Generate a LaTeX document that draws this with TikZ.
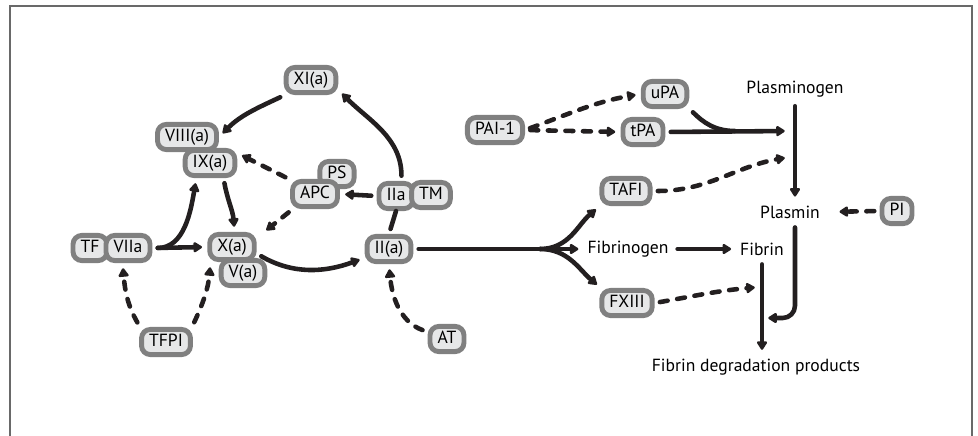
\documentclass[tikz,border=0pt]{standalone}
\usepackage{fontspec}
\setmainfont{PT Sans}
\usetikzlibrary{arrows.meta}
\definecolor{ink}{RGB}{35,31,32}
\definecolor{ring}{RGB}{128,128,128}
\definecolor{pale}{RGB}{230,231,232}
\definecolor{frm}{RGB}{105,105,105}
\begin{document}
\begin{tikzpicture}[x=0.02cm,y=0.02cm,font=\fontsize{10}{12}\selectfont]
 \tikzstyle{fac}=[rectangle, rounded corners=5pt, draw=ring, fill=pale, line width=2.8pt, inner xsep=4.3pt, inner ysep=2.4pt, text height=7.5pt, text depth=2pt]
 \tikzstyle{txt}=[inner sep=2pt]
 \tikzstyle{act}=[line width=2.6pt, color=ink, line cap=round, -{Triangle[round,length=5.5pt,width=6.5pt]}, shorten <=3pt, shorten >=3pt]
 \tikzstyle{inh}=[act, dash pattern=on 4.5pt off 5.5pt]
 \tikzstyle{lnk}=[line width=2.6pt, color=ink, line cap=round, shorten <=3pt]
\useasboundingbox (0,0) rectangle (978,-436);
\draw[frm, line width=1.2pt] (10,-445) -- (10,-6) -- (972,-6) -- (972,-445);
% coagulation side
\draw (90,-248) node[fac] (tf) {TF};
\draw (128,-248) node[fac] (viia) {VIIa};
\draw (187,-137) node[fac] (viii) {VIII(a)};
\draw (210,-163) node[fac] (ix) {IX(a)};
\draw (311,-80) node[fac] (xi) {XI(a)};
\draw (337,-174) node[fac] (ps) {PS};
\draw (315,-194) node[fac] (apc) {APC};
\draw (396,-196) node[fac] (iia) {IIa};
\draw (431,-195) node[fac] (tm) {TM};
\draw (232,-247) node[fac] (xa) {X(a)};
\draw (243,-273) node[fac] (va) {V(a)};
\draw (389,-249) node[fac] (ii) {II(a)};
\draw (447,-339) node[fac] (at) {AT};
\draw (166,-342) node[fac] (tfpi) {TFPI};
% fibrinolysis side
\draw (495,-130) node[fac] (pai) {PAI-1};
\draw (665,-94) node[fac] (upa) {uPA};
\draw (643,-132) node[fac] (tpa) {tPA};
\draw (626,-191) node[fac] (tafi) {TAFI};
\draw (627,-303) node[fac] (fxiii) {FXIII};
\draw (897,-211) node[fac] (pi) {PI};
\draw (628,-249) node[txt] (fbg) {Fibrinogen};
\draw (762,-249) node[txt] (fbn) {Fibrin};
\draw (795,-89) node[txt] (plg) {Plasminogen};
\draw (790,-212) node[txt] (pln) {Plasmin};
\draw (756,-367) node[txt] (fdp) {Fibrin degradation products};
\coordinate (fork) at (540,-249);
\coordinate (mrg) at (735,-131);
\coordinate (pga) at (790,-131);
\coordinate (pgb) at (790,-157);
\coordinate (fba) at (760,-287);
\coordinate (hk) at (763,-318);
% loop
\draw[act] (xi.210) to[out=205,in=45] (viii.east);
\draw[act] (iia.70) to[out=90,in=-45] (xi.-20);
\draw[lnk] (ii.north) -- (iia.south);
\draw[act] (iia.west) -- (apc.east);
\draw[inh] (apc.150) -- (ix.20);
\draw[inh, shorten >=7pt] (apc.214) -- (xa.20);
\draw[act] (ix.-48) to[out=-80,in=95] (xa.80);
\draw[act] (viia.east) -- (xa.west);
\draw[act] (viia.east) to[out=0,in=-100] (ix.-132);
\draw[inh] (tfpi.150) to[out=120,in=-85] (viia.-110);
\draw[inh] (tfpi.30) to[out=65,in=-95] (xa.-145);
\draw[act] (xa.-15) to[out=-30,in=200] (ii.-160);
\draw[inh] (at.160) to[out=160,in=-85] (ii.south);
% fork
\draw[lnk] (ii.east) -- (fork);
\draw[act, shorten <=0pt] (fork) to[out=0,in=220] (tafi.-150);
\draw[act, shorten <=0pt] (fork) -- (fbg.west);
\draw[act, shorten <=0pt] (fork) to[out=0,in=140] (fxiii.150);
\draw[act] (fbg.east) -- (fbn.west);
% lysis
\draw[inh] (pai.east) to[out=20,in=190] (upa.west);
\draw[inh] (pai.east) -- (tpa.west);
\draw[lnk] (upa.-31) to[out=-45,in=180] (mrg);
\draw[act] (tpa.east) -- (pga);
\draw[inh] (tafi.east) to[out=0,in=190] (pgb);
\draw[act] (plg.south) -- (plg.south |- pln.north);
\draw[inh, shorten >=9pt] (pi.west) -- (pln.east);
\draw[inh] (fxiii.east) to[out=10,in=185] (fba);
\draw[act] (fbn.south) -- (fbn.south |- fdp.north);
\draw[act, rounded corners=7pt] (plg.south |- pln.south) |- (hk);
\end{tikzpicture}
\end{document}
